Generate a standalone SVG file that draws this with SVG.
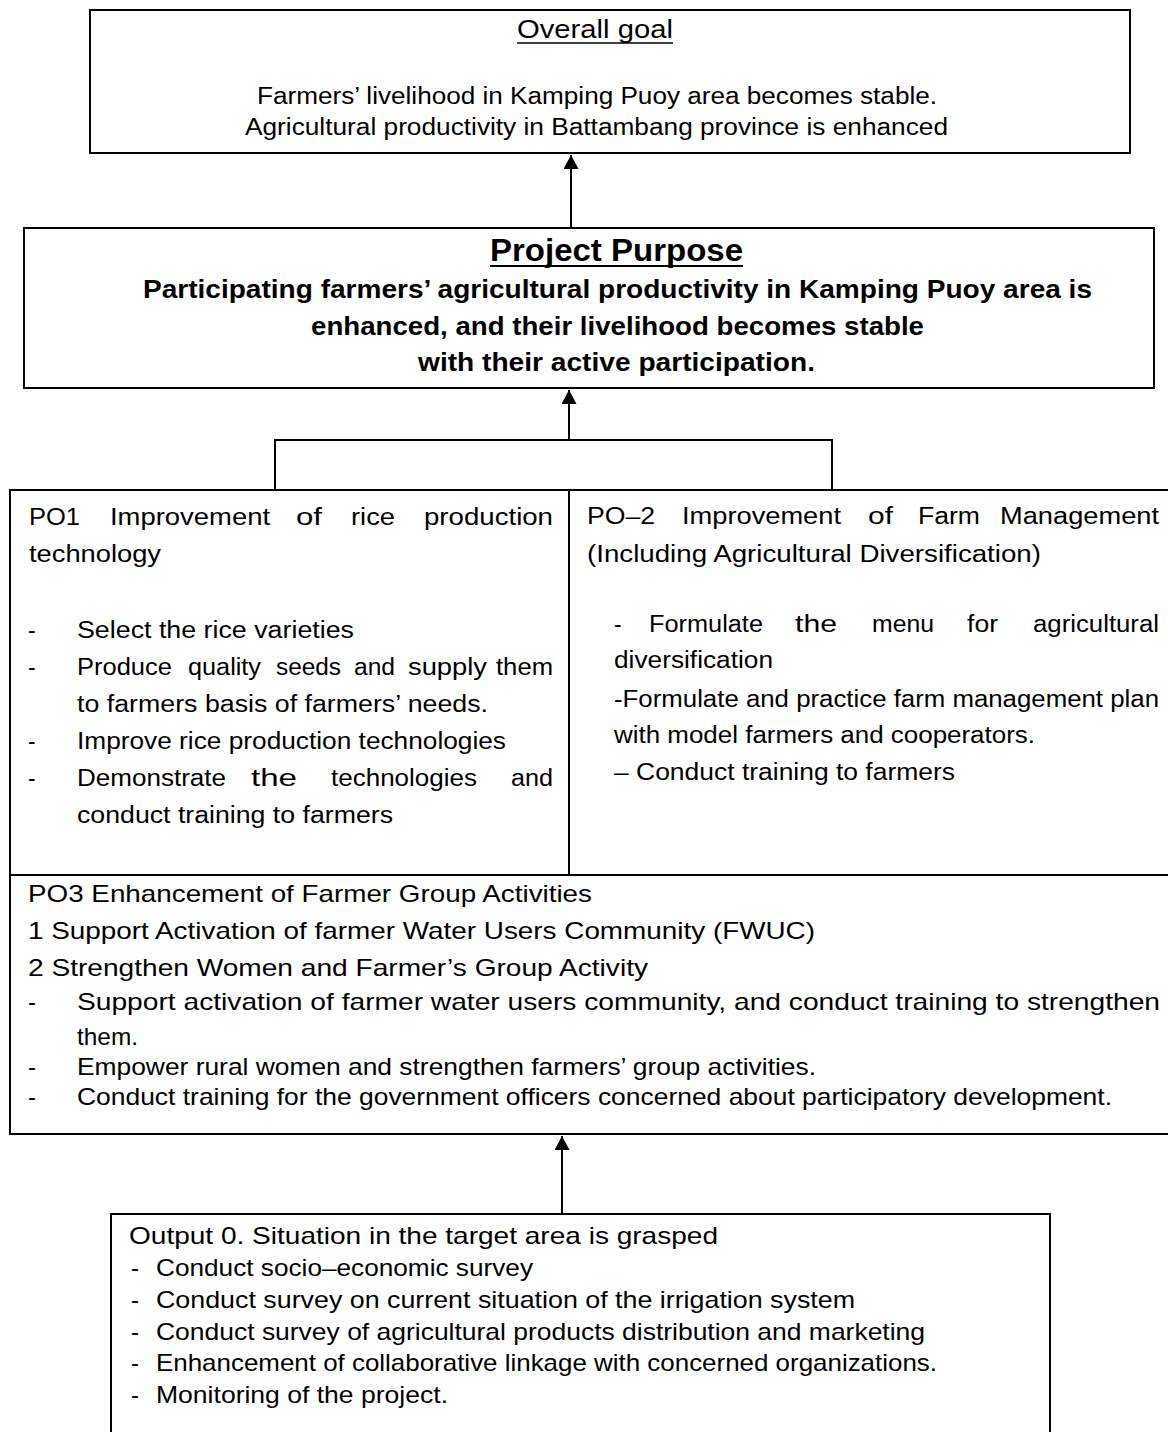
<svg xmlns="http://www.w3.org/2000/svg" width="1168" height="1432" viewBox="0 0 1168 1432">
<style>
.box{fill:#fff;stroke:#000;stroke-width:2}
.ln{fill:none;stroke:#000;stroke-width:2}
.t{font-family:"Liberation Sans","DejaVu Sans",sans-serif;fill:#000}
.s20{font-size:23px}
.s22{font-size:24px}
.s23{font-size:23px}
.s24{font-size:24px}
.s25{font-size:25px}
.b{font-weight:bold}
</style>
<defs>
<marker id="arr" viewBox="0 0 14 15" refX="14" refY="7.5" markerWidth="14" markerHeight="15" markerUnits="userSpaceOnUse" orient="auto">
<path d="M0,0 L14,7.5 L0,15 z" fill="#000"/>
</marker>
</defs>
<rect width="1168" height="1432" fill="#fff"/>

<g id="node-overall-goal">
<rect class="box" x="90" y="10" width="1040" height="143"/>
<text class="t" style="font-size:26px" x="517" y="38" textLength="156" lengthAdjust="spacingAndGlyphs">Overall goal</text>
<line class="ln" x1="517" y1="43" x2="673" y2="43" style="stroke-width:1.5"/>
<text class="t s20" x="257" y="104" textLength="680" lengthAdjust="spacingAndGlyphs">Farmers’ livelihood in Kamping Puoy area becomes stable.</text>
<text class="t s20" x="245" y="135" textLength="703" lengthAdjust="spacingAndGlyphs">Agricultural productivity in Battambang province is enhanced</text>
</g>

<g id="node-project-purpose">
<rect class="box" x="24" y="228" width="1130" height="160"/>
<text class="t b" style="font-size:31px" x="490" y="261" textLength="253" lengthAdjust="spacingAndGlyphs">Project Purpose</text>
<line class="ln" x1="490" y1="266" x2="743" y2="266"/>
<text class="t s25 b" x="143" y="298" textLength="949" lengthAdjust="spacingAndGlyphs">Participating farmers’ agricultural productivity in Kamping Puoy area is</text>
<text class="t s25 b" x="311" y="335" textLength="613" lengthAdjust="spacingAndGlyphs">enhanced, and their livelihood becomes stable</text>
<text class="t s25 b" x="418" y="371" textLength="397" lengthAdjust="spacingAndGlyphs">with their active participation.</text>
</g>

<g id="node-po1">
<rect class="box" x="10" y="490" width="559" height="385"/>
<text class="t s23" y="525"><tspan x="29" textLength="51" lengthAdjust="spacingAndGlyphs">PO1</tspan> <tspan x="110" textLength="160" lengthAdjust="spacingAndGlyphs">Improvement</tspan> <tspan x="296" textLength="26" lengthAdjust="spacingAndGlyphs">of</tspan> <tspan x="351" textLength="44" lengthAdjust="spacingAndGlyphs">rice</tspan> <tspan x="424" textLength="129" lengthAdjust="spacingAndGlyphs">production</tspan></text>
<text class="t s23" x="29" y="562" textLength="132" lengthAdjust="spacingAndGlyphs">technology</text>
<text class="t s23" x="28" y="638">-</text>
<text class="t s23" x="77" y="638" textLength="277" lengthAdjust="spacingAndGlyphs">Select the rice varieties</text>
<text class="t s23" x="28" y="675">-</text>
<text class="t s23" y="675"><tspan x="77" textLength="95" lengthAdjust="spacingAndGlyphs">Produce</tspan> <tspan x="188" textLength="73" lengthAdjust="spacingAndGlyphs">quality</tspan> <tspan x="276" textLength="65" lengthAdjust="spacingAndGlyphs">seeds</tspan> <tspan x="354" textLength="41" lengthAdjust="spacingAndGlyphs">and</tspan> <tspan x="408" textLength="79" lengthAdjust="spacingAndGlyphs">supply</tspan> <tspan x="496" textLength="57" lengthAdjust="spacingAndGlyphs">them</tspan></text>
<text class="t s23" x="77" y="712" textLength="411" lengthAdjust="spacingAndGlyphs">to farmers basis of farmers’ needs.</text>
<text class="t s23" x="28" y="749">-</text>
<text class="t s23" x="77" y="749" textLength="429" lengthAdjust="spacingAndGlyphs">Improve rice production technologies</text>
<text class="t s23" x="28" y="786">-</text>
<text class="t s23" y="786"><tspan x="77" textLength="149" lengthAdjust="spacingAndGlyphs">Demonstrate</tspan> <tspan x="251" textLength="46" lengthAdjust="spacingAndGlyphs">the</tspan> <tspan x="331" textLength="146" lengthAdjust="spacingAndGlyphs">technologies</tspan> <tspan x="511" textLength="42" lengthAdjust="spacingAndGlyphs">and</tspan></text>
<text class="t s23" x="77" y="823" textLength="316" lengthAdjust="spacingAndGlyphs">conduct training to farmers</text>
</g>

<g id="node-po2">
<rect class="box" x="569" y="490" width="604" height="385"/>
<text class="t s23" y="524"><tspan x="587" textLength="68" lengthAdjust="spacingAndGlyphs">PO–2</tspan> <tspan x="682" textLength="159" lengthAdjust="spacingAndGlyphs">Improvement</tspan> <tspan x="868" textLength="25" lengthAdjust="spacingAndGlyphs">of</tspan> <tspan x="918" textLength="62" lengthAdjust="spacingAndGlyphs">Farm</tspan> <tspan x="1000" textLength="159" lengthAdjust="spacingAndGlyphs">Management</tspan></text>
<text class="t s23" x="587" y="562" textLength="454" lengthAdjust="spacingAndGlyphs">(Including Agricultural Diversification)</text>
<text class="t s23" y="632"><tspan x="614">-</tspan> <tspan x="649" textLength="114" lengthAdjust="spacingAndGlyphs">Formulate</tspan> <tspan x="795" textLength="42" lengthAdjust="spacingAndGlyphs">the</tspan> <tspan x="872" textLength="62" lengthAdjust="spacingAndGlyphs">menu</tspan> <tspan x="967" textLength="31" lengthAdjust="spacingAndGlyphs">for</tspan> <tspan x="1033" textLength="126" lengthAdjust="spacingAndGlyphs">agricultural</tspan></text>
<text class="t s23" x="614" y="668" textLength="159" lengthAdjust="spacingAndGlyphs">diversification</text>
<text class="t s23" x="614" y="707" textLength="545" lengthAdjust="spacingAndGlyphs">-Formulate and practice farm management plan</text>
<text class="t s23" x="614" y="743" textLength="421" lengthAdjust="spacingAndGlyphs">with model farmers and cooperators.</text>
<text class="t s23" x="614" y="780" textLength="341" lengthAdjust="spacingAndGlyphs">– Conduct training to farmers</text>
</g>

<g id="node-po3">
<rect class="box" x="10" y="875" width="1163" height="259"/>
<text class="t s24" x="28" y="902" textLength="564" lengthAdjust="spacingAndGlyphs">PO3 Enhancement of Farmer Group Activities</text>
<text class="t s24" x="28" y="939" textLength="787" lengthAdjust="spacingAndGlyphs">1 Support Activation of farmer Water Users Community (FWUC)</text>
<text class="t s24" x="28" y="976" textLength="620" lengthAdjust="spacingAndGlyphs">2 Strengthen Women and Farmer’s Group Activity</text>
<text class="t s24" x="28" y="1010">-</text>
<text class="t s24" x="77" y="1010" textLength="1083" lengthAdjust="spacingAndGlyphs">Support activation of farmer water users community, and conduct training to strengthen</text>
<text class="t s24" x="77" y="1045" textLength="61" lengthAdjust="spacingAndGlyphs">them.</text>
<text class="t s24" x="28" y="1075">-</text>
<text class="t s24" x="77" y="1075" textLength="739" lengthAdjust="spacingAndGlyphs">Empower rural women and strengthen farmers’ group activities.</text>
<text class="t s24" x="28" y="1105">-</text>
<text class="t s24" x="77" y="1105" textLength="1035" lengthAdjust="spacingAndGlyphs">Conduct training for the government officers concerned about participatory development.</text>
</g>

<g id="node-output0">
<rect class="box" x="111" y="1214" width="939" height="240"/>
<text class="t s22" x="129" y="1244" textLength="589" lengthAdjust="spacingAndGlyphs">Output 0. Situation in the target area is grasped</text>
<text class="t s22" x="131" y="1276">-</text>
<text class="t s22" x="156" y="1276" textLength="377" lengthAdjust="spacingAndGlyphs">Conduct socio–economic survey</text>
<text class="t s22" x="131" y="1308">-</text>
<text class="t s22" x="156" y="1308" textLength="699" lengthAdjust="spacingAndGlyphs">Conduct survey on current situation of the irrigation system</text>
<text class="t s22" x="131" y="1340">-</text>
<text class="t s22" x="156" y="1340" textLength="769" lengthAdjust="spacingAndGlyphs">Conduct survey of agricultural products distribution and marketing</text>
<text class="t s22" x="131" y="1371">-</text>
<text class="t s22" x="156" y="1371" textLength="781" lengthAdjust="spacingAndGlyphs">Enhancement of collaborative linkage with concerned organizations.</text>
<text class="t s22" x="131" y="1403">-</text>
<text class="t s22" x="156" y="1403" textLength="292" lengthAdjust="spacingAndGlyphs">Monitoring of the project.</text>
</g>

<g id="connectors">
<line class="ln" x1="571" y1="228" x2="571" y2="155" marker-end="url(#arr)"/>
<line class="ln" x1="569" y1="440" x2="569" y2="390" marker-end="url(#arr)"/>
<path class="ln" d="M275,490 V440 H832 V490"/>
<line class="ln" x1="562" y1="1214" x2="562" y2="1136" marker-end="url(#arr)"/>
</g>
</svg>
